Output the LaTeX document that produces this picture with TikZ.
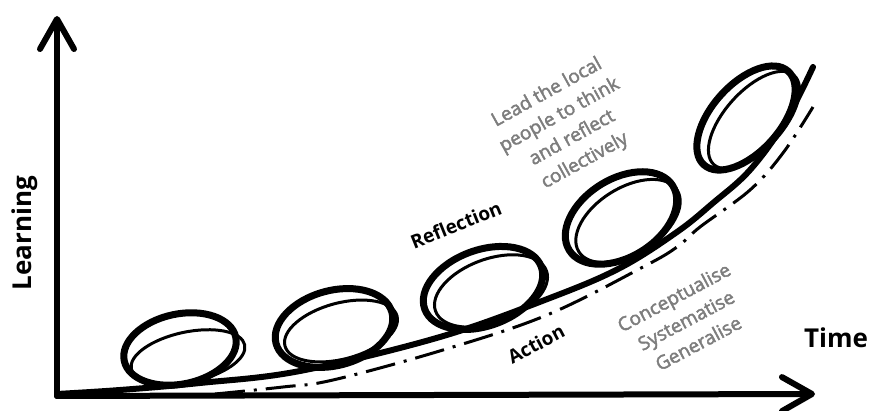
\documentclass[tikz,border=0pt]{standalone}
\usepackage{fontspec}
\setmainfont{Open Sans}
\newfontfamily\graysemi[FakeBold=2.2]{Open Sans}
\usetikzlibrary{arrows.meta}
\definecolor{txtgray}{RGB}{125,125,125}
\begin{document}
\begin{tikzpicture}[x=1pt,y=1pt,
  axisline/.style={line width=6pt,line cap=round,-{Straight Barb[length=30pt,width=34pt,round]}},
  mainline/.style={line width=6pt,line cap=round},
  dashline/.style={line width=3pt,dash pattern=on 30pt off 9pt on 3pt off 9pt},
  loopthick/.style={line width=7pt},
  loopthin/.style={line width=3pt},
  axislabel/.style={font=\bfseries\fontsize{26}{30}\selectfont},
  boldlabel/.style={font=\bfseries\fontsize{19}{22}\selectfont},
  graylabel/.style={text=txtgray,align=center,font=\graysemi\fontsize{19}{26}\selectfont}]
\useasboundingbox (0,0) rectangle (870,411);
% axes
\coordinate (O) at (57,15);
\coordinate (ytip) at (57,395);
\coordinate (xtip) at (815,17);
\draw[axisline] (O) -- (ytip);
\draw[axisline] (O) -- (xtip);
% learning curve
\draw[mainline] plot[smooth,tension=0.6] coordinates {(57,17) (120,21) (200,28) (300,40) (440,74) (550,113) (620,143) (677,179) (713,208) (750,241) (785,289) (813,344)};
% dash-dot curve
\draw[dashline] plot[smooth,tension=0.6] coordinates {(215,17) (283,24) (333,31) (443,61) (547,96) (643,144) (677,164) (700,184) (750,221) (783,258) (813,304)};
% loops
\coordinate (c1) at (180,62); \coordinate (d1) at (188,54);
\coordinate (c2) at (334,83); \coordinate (d2) at (341,80);
\coordinate (c3) at (483,123); \coordinate (d3) at (491,120);
\coordinate (c4) at (621,193); \coordinate (d4) at (628,190);
\coordinate (c5) at (746,293); \coordinate (d5) at (754,291);
\draw[loopthick,rotate around={12:(c1)}] (c1) ellipse (57 and 35);
\draw[loopthin,rotate around={12:(d1)}] (d1) ellipse (58 and 25);
\draw[loopthick,rotate around={15:(c2)}] (c2) ellipse (60 and 37.5);
\draw[loopthin,rotate around={15:(d2)}] (d2) ellipse (58 and 28);
\draw[loopthick,rotate around={20:(c3)}] (c3) ellipse (62 and 38);
\draw[loopthin,rotate around={20:(d3)}] (d3) ellipse (59 and 32);
\draw[loopthick,rotate around={32:(c4)}] (c4) ellipse (61 and 39);
\draw[loopthin,rotate around={32:(d4)}] (d4) ellipse (58 and 33);
\draw[loopthick,rotate around={48:(c5)}] (c5) ellipse (63 and 34);
\draw[loopthin,rotate around={48:(d5)}] (d5) ellipse (60 and 29);
% labels
\node[axislabel,rotate=90] (learning) at (25,178) {Learning};
\node[axislabel] (time) at (836,73) {Time};
\node[boldlabel,rotate=22] (refl) at (456,186) {Reflection};
\node[boldlabel,rotate=28] (action) at (536,67) {Action};
\node[graylabel,rotate=28] (cons) at (686,91) {Conceptualise\\Systematise\\Generalise};
\node[graylabel,rotate=29] (lead) at (566,284) {Lead the local\\people to think\\and reflect\\collectively};
\end{tikzpicture}
\end{document}
